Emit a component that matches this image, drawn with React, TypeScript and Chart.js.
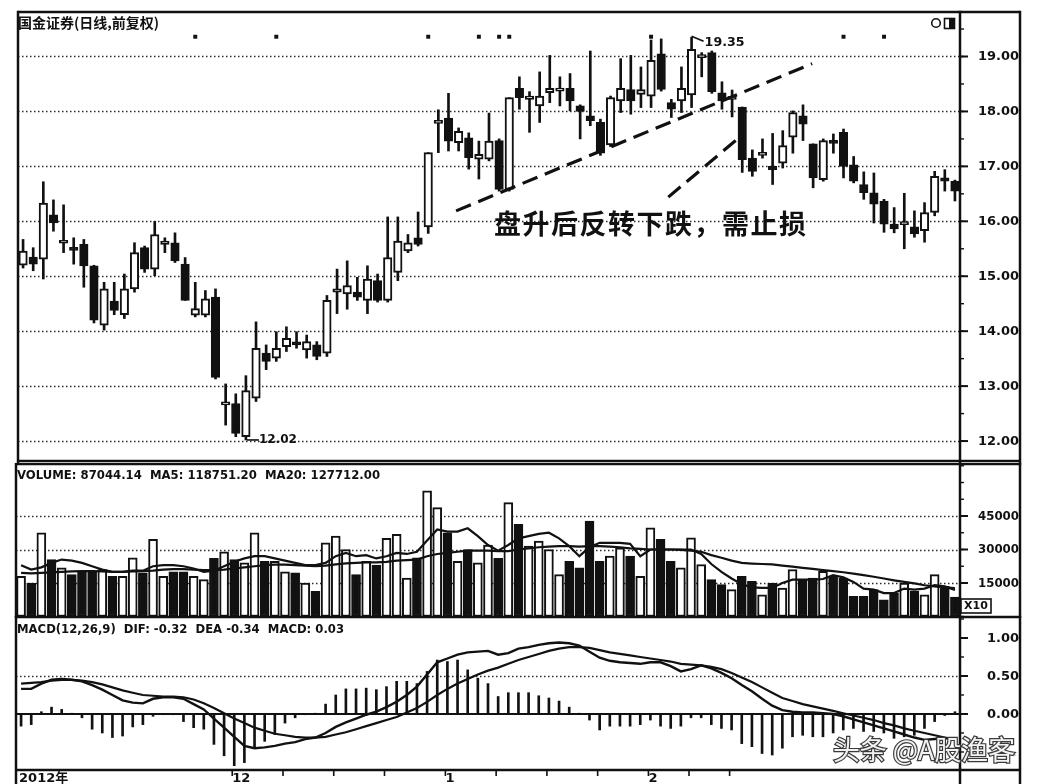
import { useEffect, useRef } from "react";
import { Chart, registerables } from "chart.js";

Chart.register(...registerables);

// ---------- daily K-line data (93 sessions) ----------
const openPrices = [
  15.2, 15.35, 15.31, 16.12, 15.6, 15.5, 15.58, 15.19, 14.11, 14.55,
  14.3, 14.77, 15.52, 15.13, 15.58, 15.61, 15.22, 14.29, 14.29, 14.62,
  12.66, 12.68, 12.08, 12.78, 13.6, 13.51, 13.72, 13.78, 13.66, 13.75,
  13.6, 14.71, 14.68, 14.71, 14.56, 14.92, 14.56, 15.07, 15.46, 15.7,
  15.9, 17.78, 17.88, 17.43, 17.52, 17.13, 17.13, 17.47, 16.58, 18.42,
  18.22, 18.1, 18.34, 18.37, 18.42, 18.1, 17.92, 17.8, 17.39, 18.19,
  18.4, 18.31, 18.28, 19.05, 18.16, 18.19, 18.3, 18.98, 19.07, 18.34,
  18.22, 18.08, 17.15, 17.2, 17.0, 17.06, 17.53, 17.92, 17.41, 16.76,
  17.44, 17.62, 17.03, 16.67, 16.52, 16.37, 15.95, 15.94, 15.9, 15.83,
  16.16, 16.79, 16.73,
];
const highPrices = [
  15.67, 15.52, 16.72, 16.39, 16.3, 15.7, 15.67, 15.2, 14.89, 14.89,
  15.04, 15.61, 15.55, 16.0, 15.7, 15.79, 15.34, 14.89, 14.74, 14.77,
  13.04, 12.86, 13.19, 14.17, 13.75, 13.99, 14.08, 13.99, 13.93, 13.81,
  14.65, 15.13, 15.28, 14.98, 15.19, 15.04, 16.08, 16.08, 15.76, 16.17,
  17.25, 18.03, 18.33, 17.7, 17.61, 17.46, 17.97, 17.5, 18.25, 18.63,
  18.36, 18.72, 19.02, 18.63, 18.69, 18.12, 19.1, 17.86, 18.28, 18.96,
  19.02, 18.81, 19.3, 19.32, 18.22, 18.81, 19.35, 19.07, 19.1, 18.54,
  18.39, 18.08, 17.3, 17.5, 17.6, 17.65, 18.01, 18.12, 17.41, 17.5,
  17.59, 17.68, 17.18, 16.9, 16.88, 16.4, 16.25, 16.51, 16.19, 16.34,
  16.91, 16.94, 16.75,
];
const lowPrices = [
  15.15, 15.1, 14.95, 15.82, 15.43, 15.22, 14.8, 14.15, 14.02, 14.3,
  14.23, 14.71, 15.07, 15.01, 15.43, 15.25, 14.56, 14.26, 14.26, 13.13,
  12.29, 12.08, 12.02, 12.72, 13.3, 13.45, 13.63, 13.69, 13.51, 13.48,
  13.54, 14.32, 14.4, 14.56, 14.32, 14.53, 14.53, 14.92, 15.43, 15.55,
  15.78, 17.25, 17.28, 17.28, 16.95, 16.77, 17.1, 16.55, 16.55, 18.04,
  17.62, 17.8, 18.16, 18.1, 18.01, 17.5, 17.74, 17.2, 17.36, 17.98,
  17.95, 18.07, 18.07, 18.37, 17.89, 17.98, 18.07, 18.63, 18.33, 18.04,
  17.9, 16.89, 16.82, 17.15, 16.67, 16.97, 17.24, 17.47, 16.61, 16.73,
  17.24, 16.79, 16.7, 16.4, 15.97, 15.8, 15.79, 15.5, 15.71, 15.62,
  16.1, 16.55, 16.37,
];
const closePrices = [
  15.46, 15.22, 16.33, 15.97, 15.65, 15.47, 15.19, 14.2, 14.77, 14.38,
  14.77, 15.43, 15.13, 15.76, 15.64, 15.28, 14.56, 14.41, 14.59, 13.16,
  12.7, 12.14, 12.92, 13.69, 13.45, 13.69, 13.87, 13.75, 13.81, 13.54,
  14.56, 14.77, 14.83, 14.62, 14.95, 14.56, 15.34, 15.64, 15.61, 15.58,
  17.25, 17.84, 17.46, 17.64, 17.16, 17.22, 17.46, 16.58, 18.25, 18.25,
  18.28, 18.28, 18.42, 18.42, 18.19, 18.0, 17.83, 17.24, 18.25, 18.42,
  18.19, 18.4, 18.93, 18.4, 18.04, 18.42, 19.13, 19.0, 18.36, 18.19,
  18.25, 17.12, 16.91, 17.22, 16.94, 17.38, 17.98, 17.77, 16.79, 17.47,
  17.42, 17.0, 16.73, 16.52, 16.31, 15.95, 15.86, 15.95, 15.77, 16.16,
  16.82, 16.73, 16.55,
];

// ---------- volume (x10) with its moving averages ----------
const volumes = [
  18000, 15000, 37500, 25500, 21750, 18750, 20250, 20000, 21000, 18000,
  18000, 26250, 19500, 34500, 18000, 20000, 20000, 18000, 16500, 26000,
  29000, 25500, 24000, 37500, 24750, 24750, 20000, 19500, 15000, 11250,
  33000, 36000, 30000, 18750, 24750, 23000, 35000, 36750, 17250, 26250,
  56250, 48750, 37500, 24750, 30000, 24000, 32000, 26000, 51000, 41250,
  31500, 33750, 30000, 18750, 24750, 21750, 42750, 24750, 27000, 30750,
  27000, 18000, 39750, 34500, 24750, 21750, 35250, 23250, 16500, 14250,
  12000, 18000, 15750, 9750, 15000, 12750, 21000, 16500, 17250, 20250,
  18000, 17250, 9000, 9000, 12000, 7500, 10500, 15000, 11250, 9750,
  18750, 13500, 8704,
];
const volumeMa5 = [
  23000, 21000, 22000, 24000, 25500, 25000, 24000, 22500, 21000, 20000,
  20000, 20500, 20500, 22500, 23000, 23000, 22500, 21500, 20000, 20500,
  22500, 24500, 26000, 27000, 27000, 26000, 25000, 24000, 23000, 23000,
  24000, 27000, 28500, 27000, 27500, 26000, 27000, 28500, 28000, 29000,
  34000, 39000, 38000, 38000, 39500, 36000, 32000, 29500, 32000, 35000,
  36000, 37000, 37500, 35000, 31500, 27000, 31000, 33000, 33000, 33000,
  32500, 27000, 30000, 30000, 30000, 30000, 30000, 28000, 23500, 20000,
  17000, 14500, 13000, 12800, 12800, 15000, 16500, 16500, 16500, 16800,
  18500, 17500, 15500, 12500, 12000, 10500, 10500, 12500, 12000, 12500,
  14000, 13500, 11875,
];
const volumeMa20 = [
  19500, 19300, 19500, 19800, 20000, 20200, 20300, 20300, 20200, 20000,
  20000, 20200, 20300, 20500, 21000, 21200, 21200, 21000, 20800, 20800,
  21000, 21500, 22000, 22500, 23000, 23200, 23200, 23000, 22800, 22500,
  22800, 23300, 23800, 24000, 24200, 24200, 24500, 25000, 25200, 25500,
  27000, 28000, 28500, 29000, 29500, 29500, 29500, 29300, 29300, 30000,
  30500, 31000, 31300, 31500, 31500, 31300, 31500, 31500, 31300, 31000,
  30500, 30300, 30000, 30000, 30000, 29800, 29500, 29000, 27500, 26300,
  25000, 24000, 23700, 23500, 23300, 22800, 22300, 21800, 21300, 20800,
  20300, 19800, 19200, 18500, 17800, 17000, 16200, 15500, 14800, 14000,
  13500, 13000, 12771,
];

// ---------- MACD(12,26,9) ----------
const difLine = [
  0.33, 0.33, 0.4, 0.45, 0.46, 0.45, 0.43, 0.38, 0.32, 0.25,
  0.18, 0.15, 0.14, 0.2, 0.22, 0.22, 0.2, 0.13, 0.06, -0.06,
  -0.18, -0.3, -0.42, -0.45, -0.44, -0.42, -0.39, -0.37, -0.33, -0.31,
  -0.25, -0.17, -0.11, -0.06, -0.01, 0.03, 0.09, 0.16, 0.25, 0.36,
  0.52, 0.68, 0.73, 0.78, 0.81, 0.82, 0.83, 0.78, 0.8, 0.86,
  0.88, 0.91, 0.93, 0.94, 0.93, 0.9, 0.82, 0.74, 0.7, 0.68,
  0.67, 0.66, 0.68, 0.68, 0.63, 0.56, 0.59, 0.64, 0.6, 0.54,
  0.47, 0.38, 0.3, 0.2, 0.11, 0.05, 0.03, 0.02, 0.02, 0.01,
  0.0, -0.03, -0.07, -0.11, -0.15, -0.19, -0.23, -0.27, -0.31, -0.34,
  -0.33, -0.32, -0.32,
];
const deaLine = [
  0.4, 0.41, 0.42, 0.44, 0.45, 0.45, 0.44, 0.42, 0.39, 0.35,
  0.31, 0.28, 0.25, 0.24, 0.23, 0.23, 0.22, 0.19, 0.14, 0.08,
  0.01, -0.06, -0.12, -0.18, -0.22, -0.26, -0.28, -0.3, -0.31, -0.31,
  -0.3, -0.27, -0.24, -0.2, -0.16, -0.12, -0.08, -0.04, 0.02, 0.08,
  0.16, 0.25, 0.33, 0.4, 0.46, 0.52, 0.57, 0.61, 0.66, 0.71,
  0.75, 0.79, 0.83, 0.86, 0.88, 0.88, 0.87, 0.84, 0.81, 0.79,
  0.77, 0.75, 0.73, 0.71, 0.69, 0.66, 0.65, 0.64, 0.62, 0.59,
  0.54, 0.48, 0.42, 0.35, 0.28, 0.21, 0.17, 0.13, 0.1, 0.07,
  0.04, 0.01, -0.02, -0.05, -0.08, -0.12, -0.15, -0.19, -0.22, -0.25,
  -0.28, -0.31, -0.34,
];
const macdHistogram = [
  -0.16, -0.14, 0.03, 0.09, 0.06, 0.01, -0.05, -0.2, -0.25, -0.31,
  -0.29, -0.17, -0.14, -0.03, -0.01, -0.01, -0.1, -0.18, -0.2, -0.4,
  -0.55, -0.68, -0.64, -0.44, -0.36, -0.27, -0.12, -0.05, -0.01, 0.01,
  0.13, 0.25, 0.33, 0.33, 0.34, 0.32, 0.36, 0.43, 0.43, 0.4,
  0.56, 0.71, 0.69, 0.71, 0.58, 0.47, 0.4, 0.23, 0.28, 0.28,
  0.28, 0.24, 0.21, 0.17, 0.09, 0.01, -0.08, -0.21, -0.16, -0.16,
  -0.16, -0.14, -0.08, -0.16, -0.19, -0.16, -0.05, -0.05, -0.14, -0.19,
  -0.21, -0.39, -0.43, -0.52, -0.54, -0.45, -0.3, -0.28, -0.3, -0.3,
  -0.25, -0.21, -0.19, -0.23, -0.23, -0.25, -0.32, -0.3, -0.28, -0.19,
  -0.1, -0.02, 0.03,
];

// ---------- axes, dates, annotations ----------
const priceTicks = [12, 13, 14, 15, 16, 17, 18, 19];
const volumeTicks = [15000, 30000, 45000];
const macdTicks = [0, 0.5, 1];
const macdGrid = [0.5];

const dateLabels = ["2012年", "12", "1", "2"];
const dateLabelIndex = [0, 21, 42, 62];
const dateTickIndex = [21, 26, 31, 36, 42, 47, 52, 57, 62, 66, 70];

const infoMarkIndex = [17, 25, 40, 45, 47, 48, 62, 81, 85];
const infoMarkLevel = 19.36;

const riseTrendLine = [
  { x: 42.75, y: 16.19 },
  { x: 77.9, y: 18.87 },
];
const breakTrendLine = [
  { x: 63.7, y: 16.44 },
  { x: 70.8, y: 17.54 },
];

const titleText = "国金证券(日线,前复权)";
const volumeTitle = "VOLUME: 87044.14  MA5: 118751.20  MA20: 127712.00";
const macdTitle = "MACD(12,26,9)  DIF: -0.32  DEA -0.34  MACD: 0.03";
const noteText = "盘升后反转下跌，需止损";
const noteAnchor = { x: 46.5, y: 15.96 };
const watermarkText = "头条 @A股渔客";

// ---------- drawing constants ----------
const INK = "#111";
const CANVAS_W = 1008;
const OUTER_RIGHT = 1006;
const PAD_LEFT = 2;
const PAD_RIGHT = 62;
const CJK = "'Noto Sans CJK SC', 'DejaVu Sans', sans-serif";
const LATIN_BOLD = "bold 13px 'DejaVu Sans', 'Noto Sans CJK SC', sans-serif";
const TITLE_BOLD = "bold 12.5px 'DejaVu Sans', sans-serif";

const isUp = closePrices.map((c, i) => c >= openPrices[i]);

function line(ctx: CanvasRenderingContext2D, x1: number, y1: number, x2: number, y2: number) {
  ctx.beginPath();
  ctx.moveTo(x1, y1);
  ctx.lineTo(x2, y2);
  ctx.stroke();
}

type AxisSpec = {
  ticks: number[];
  grid: number[];
  minorStep: number;
  decimals: number;
  solidZero?: boolean;
  decorate?: (chart: any) => void;
};

function panelPlugin(spec: AxisSpec) {
  return {
    id: "panelAxis",
    beforeDatasetsDraw(chart: any) {
      const { ctx, chartArea: a } = chart;
      const y = chart.scales.y;
      ctx.save();
      ctx.strokeStyle = "#2b2b2b";
      ctx.lineWidth = 1.3;
      ctx.setLineDash([1.5, 2.5]);
      for (const v of spec.grid) {
        const py = Math.round(y.getPixelForValue(v)) + 0.5;
        line(ctx, a.left, py, a.right, py);
      }
      if (spec.solidZero) {
        ctx.setLineDash([]);
        ctx.lineWidth = 2;
        ctx.strokeStyle = INK;
        const py = y.getPixelForValue(0);
        line(ctx, a.left, py, a.right, py);
      }
      ctx.restore();
    },
    afterDraw(chart: any) {
      const { ctx, chartArea: a } = chart;
      const y = chart.scales.y;
      ctx.save();
      ctx.strokeStyle = INK;
      ctx.fillStyle = INK;
      ctx.setLineDash([]);

      // minor ticks on the right axis
      ctx.lineWidth = 1.4;
      const first = Math.ceil(y.min / spec.minorStep);
      const last = Math.floor(y.max / spec.minorStep);
      for (let k = first; k <= last; k++) {
        const py = y.getPixelForValue(k * spec.minorStep);
        line(ctx, a.right, py, a.right + 4, py);
      }

      // major ticks and labels
      ctx.lineWidth = 2;
      ctx.font = LATIN_BOLD;
      ctx.textAlign = "right";
      ctx.textBaseline = "middle";
      for (const v of spec.ticks) {
        const py = y.getPixelForValue(v);
        line(ctx, a.right, py, a.right + 8, py);
        ctx.fillText(v.toFixed(spec.decimals), OUTER_RIGHT - 1, py + 0.5, 41);
      }

      // panel frame
      ctx.lineWidth = 2.5;
      line(ctx, a.left, a.top - 1.25, a.left, chart.height);
      line(ctx, a.right, a.top - 1.25, a.right, chart.height);
      line(ctx, OUTER_RIGHT, a.top - 1.25, OUTER_RIGHT, chart.height);
      line(ctx, a.left, a.top, OUTER_RIGHT, a.top);
      line(ctx, a.left, a.bottom, OUTER_RIGHT, a.bottom);

      if (spec.decorate) spec.decorate(chart);
      ctx.restore();
    },
  };
}

function baseOptions(min: number, max: number, padding: any) {
  return {
    responsive: false,
    animation: false,
    events: [],
    layout: { padding },
    plugins: { legend: { display: false }, tooltip: { enabled: false } },
    scales: {
      x: { type: "linear", display: false, min: -0.5, max: 92.5, offset: false },
      y: { type: "linear", display: false, min, max },
    },
  };
}

function priceConfig(): any {
  const decorate = (chart: any) => {
    const { ctx } = chart;
    const x = chart.scales.x;
    const y = chart.scales.y;

    ctx.fillStyle = INK;
    ctx.strokeStyle = INK;
    ctx.textAlign = "left";
    ctx.textBaseline = "middle";
    ctx.font = `bold 14px ${CJK}`;
    ctx.fillText(titleText, 4, 15, 142);

    // status icons in the top-right corner
    ctx.lineWidth = 1.6;
    ctx.beginPath();
    ctx.arc(922, 15, 4.3, 0, Math.PI * 2);
    ctx.stroke();
    ctx.strokeRect(930.5, 10.5, 10, 10);
    ctx.fillRect(935, 11, 5, 9);

    // highest high and lowest low markers
    const hi = Math.max(...highPrices);
    const hiIdx = highPrices.indexOf(hi);
    let px = x.getPixelForValue(hiIdx);
    let py = y.getPixelForValue(hi);
    ctx.lineWidth = 1.6;
    line(ctx, px, py - 1, px + 12, py + 4);
    ctx.font = LATIN_BOLD;
    ctx.fillText(hi.toFixed(2), px + 13, py + 5.5, 40);

    const lo = Math.min(...lowPrices);
    const loIdx = lowPrices.indexOf(lo);
    px = x.getPixelForValue(loIdx);
    py = y.getPixelForValue(lo);
    line(ctx, px + 1, py, px + 13, py);
    ctx.fillText(lo.toFixed(2), px + 13, py, 38);

    // annotation
    const nx = x.getPixelForValue(noteAnchor.x);
    const ny = y.getPixelForValue(noteAnchor.y);
    ctx.font = `bold 27px ${CJK}`;
    Array.from(noteText).forEach((ch, i) => ctx.fillText(ch, nx + i * 28.5, ny));
  };

  return {
    type: "bar",
    data: {
      datasets: [
        {
          type: "line",
          data: riseTrendLine,
          borderColor: INK,
          borderWidth: 3.2,
          borderDash: [16, 8],
          pointRadius: 0,
          order: 0,
        },
        {
          type: "line",
          data: breakTrendLine,
          borderColor: INK,
          borderWidth: 3.2,
          borderDash: [16, 8],
          pointRadius: 0,
          order: 0,
        },
        {
          type: "scatter",
          data: infoMarkIndex.map((i) => ({ x: i, y: infoMarkLevel })),
          pointStyle: "rect",
          pointRadius: 2.8,
          backgroundColor: INK,
          borderWidth: 0,
          order: 0,
        },
        {
          label: "body",
          data: openPrices.map((o, i) => ({ x: i, y: [o, closePrices[i]] })),
          backgroundColor: isUp.map((u) => (u ? "#fff" : INK)),
          borderColor: INK,
          borderWidth: 2,
          borderSkipped: false,
          barThickness: 8.5,
          minBarLength: 3,
          grouped: false,
          order: 1,
        },
        {
          label: "wick",
          data: lowPrices.map((l, i) => ({ x: i, y: [l, highPrices[i]] })),
          backgroundColor: INK,
          borderWidth: 0,
          barThickness: 2,
          grouped: false,
          order: 2,
        },
      ],
    },
    options: baseOptions(11.637, 19.81, { left: PAD_LEFT, right: PAD_RIGHT, top: 2, bottom: 1 }),
    plugins: [
      panelPlugin({ ticks: priceTicks, grid: priceTicks, minorStep: 0.5, decimals: 2, decorate }),
    ],
  };
}

function volumeConfig(): any {
  const decorate = (chart: any) => {
    const { ctx } = chart;
    ctx.fillStyle = INK;
    ctx.textAlign = "left";
    ctx.textBaseline = "middle";
    ctx.font = TITLE_BOLD;
    ctx.fillText(volumeTitle, 3, 13, 363);

    // unit box
    ctx.fillStyle = "#fff";
    ctx.fillRect(947, 136, 30, 14);
    ctx.lineWidth = 1.6;
    ctx.strokeRect(947, 136, 30, 14);
    ctx.fillStyle = INK;
    ctx.textAlign = "center";
    ctx.font = "bold 11px 'DejaVu Sans', sans-serif";
    ctx.fillText("X10", 962, 143.5, 26);
  };

  return {
    type: "bar",
    data: {
      datasets: [
        {
          type: "line",
          data: volumeMa5.map((v, i) => ({ x: i, y: v })),
          borderColor: INK,
          borderWidth: 2.2,
          pointRadius: 0,
          order: 0,
        },
        {
          type: "line",
          data: volumeMa20.map((v, i) => ({ x: i, y: v })),
          borderColor: INK,
          borderWidth: 2.2,
          pointRadius: 0,
          order: 0,
        },
        {
          data: volumes.map((v, i) => ({ x: i, y: v })),
          backgroundColor: isUp.map((u) => (u ? "#fff" : INK)),
          borderColor: INK,
          borderWidth: 2,
          borderSkipped: false,
          barThickness: 9,
          grouped: false,
          order: 1,
        },
      ],
    },
    options: baseOptions(-224, 68284, { left: PAD_LEFT, right: PAD_RIGHT, top: 1, bottom: 1 }),
    plugins: [
      panelPlugin({ ticks: volumeTicks, grid: volumeTicks, minorStep: 7500, decimals: 0, decorate }),
    ],
  };
}

function macdConfig(): any {
  const decorate = (chart: any) => {
    const { ctx, chartArea: a } = chart;
    const x = chart.scales.x;
    ctx.fillStyle = INK;
    ctx.strokeStyle = INK;
    ctx.textAlign = "left";
    ctx.textBaseline = "middle";
    ctx.font = TITLE_BOLD;
    ctx.fillText(macdTitle, 3, 14, 327);

    // date axis along the bottom
    ctx.lineWidth = 1.6;
    for (const i of dateTickIndex) {
      const px = x.getPixelForValue(i) - 2;
      line(ctx, px, a.bottom, px, a.bottom + 6);
    }
    ctx.font = LATIN_BOLD;
    dateLabels.forEach((t, k) => {
      const px = x.getPixelForValue(dateLabelIndex[k]) - 2;
      ctx.fillText(t, px, a.bottom + 9);
    });

    // watermark
    ctx.font = `27px ${CJK}`;
    ctx.lineWidth = 2.4;
    ctx.strokeStyle = "#3a3a3a";
    ctx.strokeText(watermarkText, 819, 134, 182);
    ctx.fillStyle = "#f2f2f2";
    ctx.fillText(watermarkText, 819, 134, 182);
  };

  return {
    type: "bar",
    data: {
      datasets: [
        {
          type: "line",
          data: difLine.map((v, i) => ({ x: i, y: v })),
          borderColor: INK,
          borderWidth: 2.4,
          pointRadius: 0,
          order: 0,
        },
        {
          type: "line",
          data: deaLine.map((v, i) => ({ x: i, y: v })),
          borderColor: INK,
          borderWidth: 2.2,
          pointRadius: 0,
          order: 0,
        },
        {
          data: macdHistogram.map((v, i) => ({ x: i, y: v })),
          backgroundColor: INK,
          borderWidth: 0,
          barThickness: 2,
          grouped: false,
          order: 1,
        },
      ],
    },
    options: baseOptions(-0.737, 1.276, { left: PAD_LEFT, right: PAD_RIGHT, top: 1, bottom: 14 }),
    plugins: [
      panelPlugin({ ticks: macdTicks, grid: macdGrid, minorStep: 0.25, decimals: 2, solidZero: true, decorate }),
    ],
  };
}

export default function App() {
  const priceRef = useRef<HTMLCanvasElement>(null);
  const volumeRef = useRef<HTMLCanvasElement>(null);
  const macdRef = useRef<HTMLCanvasElement>(null);

  useEffect(() => {
    const charts = [
      new Chart(priceRef.current as HTMLCanvasElement, priceConfig()),
      new Chart(volumeRef.current as HTMLCanvasElement, volumeConfig()),
      new Chart(macdRef.current as HTMLCanvasElement, macdConfig()),
    ];
    return () => charts.forEach((c) => c.destroy());
  }, []);

  return (
    <div
      style={{
        position: "absolute",
        left: 0,
        top: 0,
        width: 1038,
        height: 784,
        background: "#fff",
        overflow: "hidden",
      }}
    >
      <canvas ref={priceRef} width={CANVAS_W} height={457} style={{ position: "absolute", left: 14, top: 8 }} />
      <canvas ref={volumeRef} width={CANVAS_W} height={155} style={{ position: "absolute", left: 14, top: 463 }} />
      <canvas ref={macdRef} width={CANVAS_W} height={168} style={{ position: "absolute", left: 14, top: 616 }} />
    </div>
  );
}
